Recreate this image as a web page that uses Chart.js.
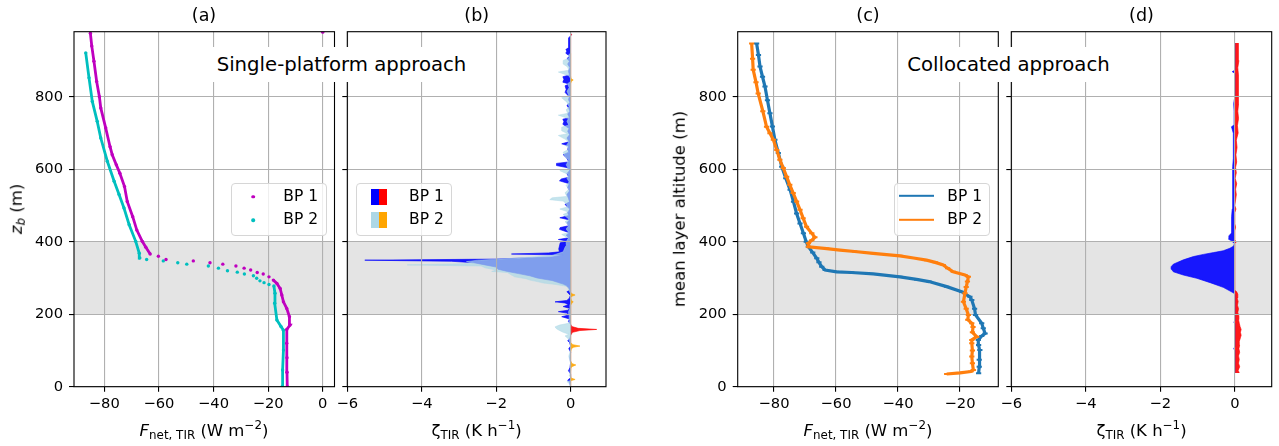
<!DOCTYPE html>
<html lang="en">
<head>
<meta charset="utf-8">
<title>Single-platform vs collocated approach</title>
<script src="https://cdn.jsdelivr.net/npm/chart.js@4.4.1/dist/chart.umd.min.js"></script>
<style>
  html, body { margin: 0; padding: 0; background: #fff; }
  #fig { position: relative; width: 1279px; height: 446px; overflow: hidden; font-family: 'DejaVu Sans', sans-serif; color: #000; }
  #fig canvas { position: absolute; left: 0; top: 0; }
  .t { position: absolute; font-size: 15.5px; line-height: 1; white-space: nowrap; transform: translate(-50%, -50%); }
  .t.title { font-size: 17.5px; }
  .t.axl { font-size: 16.5px; }
  .t.left { transform: translate(0, -50%); }
  .t.rot { transform: translate(-50%, -50%) rotate(-90deg); }
  .t sub, .t sup { font-size: 72%; line-height: 0; }
  .t sub { vertical-align: -0.25em; }
  .t sup { vertical-align: 0.55em; }
  .note { position: absolute; top: 47px; height: 35px; background: #fff; font-size: 19.7px; line-height: 35px; text-align: center; white-space: nowrap; }
  .legend { position: absolute; top: 183px; width: 96px; height: 53px; box-sizing: border-box; border: 1px solid #d6d6d6; border-radius: 4px; background: rgba(255,255,255,0.8); }
  .dot { position: absolute; width: 3.6px; height: 3.6px; border-radius: 50%; transform: translate(-50%, -50%); }
  .patch { position: absolute; width: 8px; height: 16px; }
  .hline { position: absolute; width: 35px; height: 2.4px; transform: translate(0, -50%); }
</style>
</head>
<body>
<div id="fig">
  <canvas id="panelA" width="1279" height="446"></canvas>
  <canvas id="panelB" width="1279" height="446"></canvas>
  <canvas id="panelC" width="1279" height="446"></canvas>
  <canvas id="panelD" width="1279" height="446"></canvas>

  <!-- panel titles -->
  <div class="t title" style="left:204px; top:15.5px">(a)</div>
  <div class="t title" style="left:476.7px; top:15.5px">(b)</div>
  <div class="t title" style="left:868px; top:15.5px">(c)</div>
  <div class="t title" style="left:1141.5px; top:15.5px">(d)</div>

  <!-- axis labels -->
  <div class="t axl rot" style="left:17px; top:209px"><i>z<sub>b</sub></i> (m)</div>
  <div class="t axl rot" style="left:680px; top:209px">mean layer altitude (m)</div>
  <div class="t axl" style="left:204px; top:431px"><i>F</i><sub>net, TIR</sub> (W m<sup>−2</sup>)</div>
  <div class="t axl" style="left:476.7px; top:431px">ζ<sub>TIR</sub> (K h<sup>−1</sup>)</div>
  <div class="t axl" style="left:868px; top:431px"><i>F</i><sub>net, TIR</sub> (W m<sup>−2</sup>)</div>
  <div class="t axl" style="left:1141.5px; top:431px">ζ<sub>TIR</sub> (K h<sup>−1</sup>)</div>

  <!-- approach labels -->
  <div class="note" style="left:212px; width:259px">Single-platform approach</div>
  <div class="note" style="left:899px; width:219px">Collocated approach</div>

  <!-- legend (a) -->
  <div class="legend" style="left:230.5px"></div>
  <div class="dot" style="left:253.3px; top:196.7px; background:#bf00bf"></div>
  <div class="dot" style="left:253.3px; top:220px; background:#00bfbf"></div>
  <div class="t left" style="left:283.3px; top:196.7px">BP 1</div>
  <div class="t left" style="left:283.3px; top:220px">BP 2</div>

  <!-- legend (b) -->
  <div class="legend" style="left:356px"></div>
  <div class="patch" style="left:370.7px; top:188.5px; background:#0000ff"></div>
  <div class="patch" style="left:378.7px; top:188.5px; background:#ff0000"></div>
  <div class="patch" style="left:370.7px; top:211.8px; background:#add8e6"></div>
  <div class="patch" style="left:378.7px; top:211.8px; background:#ffa500"></div>
  <div class="t left" style="left:409px; top:196.7px">BP 1</div>
  <div class="t left" style="left:409px; top:220px">BP 2</div>

  <!-- legend (c) -->
  <div class="legend" style="left:894px"></div>
  <div class="hline" style="left:899.3px; top:196px; background:#1f77b4"></div>
  <div class="hline" style="left:899.3px; top:220px; background:#ff7f0e"></div>
  <div class="t left" style="left:947.3px; top:196.7px">BP 1</div>
  <div class="t left" style="left:947.3px; top:220px">BP 2</div>
</div>

<script>
// ---- data ----
const altTicks = [0, 200, 400, 600, 800];
const fluxTicksA = [-80, -60, -40, -20, 0];
const fluxTicksC = [-80, -60, -40, -20];
const zetaTicks = [-6, -4, -2, 0];
const layerBand = [200, 400];   // shaded altitude range (m)

// (a) single-platform net TIR flux: [altitude m, W m-2]
const fluxSingleBp1 = [
    [0, -13.0], [40, -13.1], [80, -13.1], [120, -13.2], [158, -13.2], [170, -12.0], [193, -12.2],
    [216, -13.2], [234, -14.4], [253, -15.0], [271, -15.6], [285, -16.8], [294, -18.1], [303, -19.7],
    [311, -21.8], [315, -24.0], [322, -26.4], [327, -28.8], [333, -31.8], [338, -36.6], [342, -41.3],
    [347, -47.4], [351, -57.4], [360, -60.2], [366, -63.2], [385, -64.8], [401, -66.1], [432, -68.1],
    [469, -69.6], [511, -71.6], [552, -72.6], [589, -74.3], [612, -75.6], [640, -77.1], [662, -77.9],
    [714, -79.5], [769, -81.3], [800, -81.8], [842, -82.8], [898, -83.8], [940, -84.6], [975, -85.1],
    [978, 0]
];
const fluxSingleBp2 = [
    [0, -14.9], [46, -14.7], [101, -14.4], [156, -14.4], [166, -15.3], [184, -16.8], [230, -17.6],
    [258, -17.5], [278, -17.9], [282, -19.7], [287, -21.5], [292, -23.0], [299, -24.2], [306, -25.4],
    [311, -28.7], [316, -31.3], [320, -34.9], [327, -38.2], [333, -41.9], [338, -49.8], [342, -53.1],
    [347, -58.4], [351, -64.5], [355, -67.0], [368, -67.2], [401, -68.5], [447, -70.9], [493, -72.8],
    [530, -74.6], [567, -76.4], [622, -78.9], [686, -81.3], [732, -82.6], [787, -84.4], [852, -85.6],
    [921, -86.8]
];

// (b) single-platform heating rate: [altitude m, K h-1]
const zetaSingleBp1 = [
    [0, 0], [12, -0.03], [18, -0.08], [24, -0.01], [35, 0], [44, -0.06], [52, -0.02], [66, 0], [80, -0.02],
    [95, 0], [105, -0.05], [112, 0], [122, -0.03], [127, -0.08], [133, -0.02], [142, 0], [150, 0.05],
    [155, 0.25], [158, 0.70], [161, 0.2], [166, 0.03], [172, 0], [180, -0.06], [187, -0.03], [193, -0.24],
    [198, -0.05], [203, -0.1], [207, -0.33], [211, -0.08], [216, -0.02], [221, -0.2], [226, -0.06],
    [231, -0.15], [234, -0.42], [238, -0.1], [245, -0.03], [252, -0.01], [262, -0.1], [266, -0.02],
    [272, -0.05], [278, -0.1], [283, -0.2], [288, -0.35], [293, -0.5], [297, -0.74], [300, -0.9],
    [306, -1.1], [312, -1.4], [318, -1.7], [324, -1.95], [330, -2.0], [336, -2.3], [342, -2.6],
    [346, -3.2], [349, -5.53], [352, -2.0], [358, -0.5], [363, -0.2], [366, -1.59], [369, -0.6],
    [372, -0.3], [380, -0.32], [388, -0.3], [397, -0.28], [401, -0.05], [406, -0.33], [411, -0.05],
    [418, -0.12], [425, -0.04], [434, -0.3], [439, -0.28], [444, -0.05], [452, -0.1], [460, -0.03],
    [466, -0.29], [472, -0.05], [480, -0.08], [490, -0.02], [497, -0.1], [503, -0.15], [510, -0.03],
    [520, -0.06], [530, -0.1], [540, -0.03], [550, -0.08], [560, -0.04], [568, -0.3], [573, -0.25],
    [578, -0.05], [588, -0.1], [596, -0.03], [604, -0.08], [610, -0.38], [616, -0.38], [620, -0.05],
    [630, -0.1], [640, -0.2], [647, -0.05], [655, -0.08], [664, -0.05], [670, -0.24], [676, -0.04],
    [686, -0.1], [695, -0.03], [705, -0.08], [712, -0.04], [724, -0.21], [731, -0.18], [738, -0.21],
    [742, -0.03], [752, -0.08], [760, -0.02], [768, -0.05], [776, -0.1], [784, -0.02], [792, -0.06],
    [800, -0.03], [806, -0.1], [812, -0.15], [820, -0.12], [830, -0.15], [835, -0.04], [840, -0.21],
    [848, -0.18], [855, -0.21], [860, -0.03], [870, -0.06], [880, -0.02], [890, -0.08], [898, -0.03],
    [905, -0.1], [912, -0.03], [920, -0.13], [926, -0.1], [930, -0.13], [935, -0.06], [945, -0.06],
    [955, -0.05], [962, -0.06], [968, 0], [971, 0.03], [975, 0]
];
const zetaSingleBp2 = [
    [0, 0], [8, -0.03], [14, -0.1], [17, 0.02], [20, 0.12], [24, 0.01], [32, -0.04], [42, -0.02],
    [52, 0.01], [56, 0.05], [60, 0.14], [64, 0.03], [72, -0.02], [84, -0.05], [95, -0.02], [105, 0.02],
    [109, 0.08], [112, 0.25], [116, 0.06], [122, -0.02], [130, -0.05], [136, -0.1], [140, -0.15],
    [145, -0.05], [150, -0.2], [155, -0.3], [160, -0.38], [165, -0.42], [170, -0.3], [175, -0.05],
    [185, -0.02], [195, -0.04], [205, -0.06], [215, -0.03], [225, -0.02], [230, 0.03], [234, 0.07],
    [238, 0.02], [246, 0], [250, 0.05], [253, 0.12], [257, 0.02], [262, -0.03], [270, -0.06],
    [277, -0.1], [282, -0.4], [286, -0.73], [290, -0.9], [294, -1.09], [298, -1.2], [303, -1.5],
    [309, -1.6], [315, -1.7], [318, -2.12], [322, -2.0], [328, -2.3], [333, -2.4], [336, -4.39],
    [340, -2.6], [345, -2.8], [349, -2.5], [355, -1.4], [362, -0.5], [372, -0.2], [385, -0.15],
    [392, -0.1], [400, -0.12], [410, -0.06], [420, -0.24], [425, -0.05], [435, -0.12], [445, -0.05],
    [455, -0.15], [462, -0.04], [475, -0.2], [482, -0.06], [490, -0.29], [496, -0.08], [505, -0.12],
    [512, -0.2], [516, -0.56], [521, -0.5], [525, -0.1], [535, -0.15], [545, -0.05], [555, -0.12],
    [565, -0.04], [575, -0.1], [585, -0.05], [596, -0.29], [601, -0.06], [612, -0.12], [625, -0.05],
    [635, -0.15], [647, -0.2], [655, -0.05], [665, -0.12], [675, -0.05], [683, -0.15], [693, -0.33],
    [698, -0.08], [706, -0.24], [716, -0.24], [722, -0.05], [732, -0.1], [740, -0.06], [749, -0.33],
    [754, -0.08], [764, -0.12], [772, -0.04], [785, -0.1], [797, -0.24], [803, -0.05], [815, -0.1],
    [825, -0.04], [836, -0.08], [842, 0.02], [846, 0.07], [850, 0.01], [858, -0.05], [868, -0.33],
    [873, -0.05], [882, -0.08], [890, -0.2], [900, -0.2], [906, -0.04], [915, -0.06], [920, 0]
];

// (c) collocated net TIR flux: [mean layer altitude m, W m-2]
const fluxCollocBp1 = [
    [37, -14.0], [55, -13.8], [74, -13.8], [101, -13.6], [115, -14.0], [129, -14.1], [140, -13.0],
    [147, -11.9], [161, -12.5], [175, -13.0], [198, -15.0], [215, -15.3], [239, -16.2], [248, -16.8],
    [262, -19.5], [276, -24.3], [290, -30.0], [296, -34.0], [303, -39.4], [311, -48.0], [315, -55.0],
    [317, -59.8], [322, -63.5], [331, -64.6], [343, -65.5], [354, -66.2], [370, -67.5], [386, -68.9],
    [400, -69.6], [423, -70.5], [450, -71.6], [478, -72.7], [510, -73.7], [543, -74.8], [575, -76.2],
    [607, -77.5], [645, -78.6], [681, -79.7], [718, -80.5], [754, -81.3], [790, -82.1], [828, -82.9],
    [855, -83.7], [883, -84.5], [915, -85.0], [947, -85.6]
];
const fluxCollocBp2 = [
    [35, -24.3], [38, -20.0], [42, -16.5], [46, -15.7], [65, -16.0], [83, -16.2], [100, -16.0],
    [120, -16.2], [129, -16.2], [138, -14.6], [150, -16.0], [165, -15.8], [175, -16.2], [185, -17.5],
    [198, -17.3], [215, -18.0], [234, -18.9], [258, -18.4], [275, -18.0], [290, -17.6], [303, -17.3],
    [308, -18.4], [317, -22.2], [327, -24.0], [336, -25.4], [343, -28.0], [349, -30.8], [355, -35.0],
    [361, -39.4], [368, -48.0], [373, -54.0], [377, -58.7], [381, -63.0], [386, -68.9], [396, -68.9],
    [404, -67.8], [412, -66.8], [423, -67.8], [441, -69.5], [465, -70.6], [488, -71.6], [511, -72.7],
    [534, -73.8], [557, -74.9], [579, -75.9], [603, -77.0], [626, -78.1], [653, -79.1], [681, -80.2],
    [699, -81.3], [717, -82.4], [760, -83.6], [809, -85.1], [840, -85.8], [874, -86.7], [905, -86.9],
    [947, -87.2]
];

// (d) collocated heating rate, warming (red) and cooling (blue) parts: [altitude m, K h-1]
const zetaCollocWarm = [
    [38, 0.12], [45, 0.09], [55, 0.13], [65, 0.1], [75, 0.12], [85, 0.1], [95, 0.13], [105, 0.11],
    [115, 0.13], [125, 0.12], [135, 0.15], [142, 0.17], [150, 0.15], [158, 0.17], [166, 0.14],
    [175, 0.12], [185, 0.1], [195, 0.11], [205, 0.08], [215, 0.1], [225, 0.07], [235, 0.09],
    [245, 0.06], [255, 0.08], [262, 0.05], [266, 0], [396, 0], [400, 0.05], [404, 0], [430, 0],
    [440, 0.02], [450, 0], [480, 0], [490, 0.03], [500, 0], [530, 0.04], [545, 0.02], [560, 0.05],
    [575, 0.01], [590, 0.04], [605, 0.02], [620, 0.05], [640, 0.03], [660, 0.06], [680, 0.04],
    [700, 0.09], [720, 0.07], [740, 0.1], [760, 0.08], [780, 0.1], [800, 0.09], [820, 0.11],
    [840, 0.09], [860, 0.1], [880, 0.08], [900, 0.11], [920, 0.09], [935, 0.1], [948, 0.1]
];
const zetaCollocCool = [
    [38, 0], [100, 0], [105, -0.03], [110, 0], [175, 0], [178, -0.03], [181, 0], [255, 0],
    [259, -0.04], [274, -0.31], [287, -0.66], [299, -1.02], [308, -1.38], [317, -1.65], [324, -1.7],
    [331, -1.71], [338, -1.65], [350, -1.38], [359, -1.11], [365, -0.84], [370, -0.57], [375, -0.31],
    [382, -0.13], [388, -0.03], [395, -0.01], [403, -0.1], [407, -0.17], [416, -0.16], [423, -0.1],
    [440, -0.08], [455, -0.1], [469, -0.08], [490, -0.07], [510, -0.06], [530, -0.07], [552, -0.06],
    [580, -0.05], [607, -0.05], [630, -0.04], [660, -0.04], [699, -0.04], [717, -0.09], [722, -0.02],
    [760, -0.02], [781, -0.03], [800, 0], [865, 0], [869, -0.07], [873, 0], [948, 0]
];

// ---- figure layout ----
const FIG_W = 1279, FIG_H = 446;
const AREA_TOP = 31.7, AREA_BOTTOM = 386.7;
const AXIS_W = 40, AXIS_H = 40;
const ALT_MAX = 979.3;

const MAGENTA = '#bf00bf', CYAN = '#00bfbf';
const TAB_BLUE = '#1f77b4', TAB_ORANGE = '#ff7f0e';
const BLUE = 'rgba(0, 0, 255, 0.9)', RED = 'rgba(255, 0, 0, 0.9)';
const LIGHTBLUE = 'rgba(173, 216, 230, 0.7)', ORANGE = 'rgba(255, 165, 0, 0.9)';
const BAND_COLOR = '#e4e4e4';

Chart.defaults.font.family = "'DejaVu Sans', sans-serif";
Chart.defaults.color = '#000';

function fmtTick(v) {
    return v < 0 ? '\u2212' + Math.abs(v) : String(v);
}

const toPoints = pairs => pairs.map(([z, v]) => ({x: v, y: z}));
const negPart = pairs => pairs.map(([z, v]) => ({x: Math.min(v, 0), y: z}));
const posPart = pairs => pairs.map(([z, v]) => ({x: Math.max(v, 0), y: z}));

// dots that are far apart (fast flux change) are not joined
function sparseStep(ctx) {
    const dx = Math.abs(ctx.p1.parsed.x - ctx.p0.parsed.x);
    const dy = Math.abs(ctx.p1.parsed.y - ctx.p0.parsed.y);
    return dx > 0.15 * dy;
}

const bandPlugin = {
    id: 'band',
    beforeDraw(chart) {
        const {ctx, chartArea: a, scales: {y}} = chart;
        const top = y.getPixelForValue(layerBand[1]);
        const bottom = y.getPixelForValue(layerBand[0]);
        ctx.save();
        ctx.fillStyle = BAND_COLOR;
        ctx.fillRect(a.left, top, a.right - a.left, bottom - top);
        ctx.restore();
    }
};

const framePlugin = {
    id: 'frame',
    afterDraw(chart) {
        const {ctx, chartArea: a} = chart;
        ctx.save();
        ctx.strokeStyle = '#000';
        ctx.lineWidth = 1.1;
        ctx.strokeRect(a.left, a.top, a.right - a.left, a.bottom - a.top);
        ctx.restore();
    }
};

function buildPanel(id, left, right, xRange, xTicks, yLabels, gridOnTop, datasets) {
    const grid = {
        color: '#b0b0b0', lineWidth: 1.1,
        tickColor: '#000', tickWidth: 1.1, tickLength: 5,
        z: gridOnTop ? 1 : -1
    };
    return new Chart(document.getElementById(id), {
        type: 'line',
        data: { datasets },
        options: {
            responsive: false,
            animation: false,
            indexAxis: 'y',
            layout: {
                padding: {
                    left: left - AXIS_W,
                    right: FIG_W - right,
                    top: AREA_TOP,
                    bottom: FIG_H - AREA_BOTTOM - AXIS_H
                }
            },
            plugins: {
                legend: { display: false },
                tooltip: { enabled: false }
            },
            scales: {
                x: {
                    type: 'linear',
                    position: 'bottom',
                    min: xRange[0],
                    max: xRange[1],
                    grid: grid,
                    border: { display: false },
                    ticks: { font: { size: 14.7 }, padding: 4, maxRotation: 0, autoSkip: false, callback: fmtTick },
                    afterBuildTicks: s => { s.ticks = xTicks.map(v => ({value: v})); },
                    afterFit: s => { s.height = AXIS_H; }
                },
                y: {
                    type: 'linear',
                    position: 'left',
                    min: 0,
                    max: ALT_MAX,
                    grid: grid,
                    border: { display: false },
                    ticks: { font: { size: 14.7 }, padding: 6, autoSkip: false, callback: v => yLabels ? fmtTick(v) : '' },
                    afterBuildTicks: s => { s.ticks = altTicks.map(v => ({value: v})); },
                    afterFit: s => { s.width = AXIS_W; }
                }
            }
        },
        plugins: [bandPlugin, framePlugin]
    });
}

function dotSeries(pairs, color) {
    return {
        data: toPoints(pairs),
        borderColor: color,
        backgroundColor: color,
        borderWidth: 2.8,
        pointRadius: 1.7,
        pointBorderWidth: 0,
        tension: 0,
        segment: { borderColor: c => sparseStep(c) ? 'rgba(0,0,0,0)' : undefined }
    };
}

function areaSeries(points, color) {
    return {
        data: points,
        borderColor: color,
        backgroundColor: color,
        borderWidth: 0.7,
        pointRadius: 0,
        tension: 0,
        fill: 'origin'
    };
}

function lineSeries(pairs, color) {
    return {
        data: toPoints(pairs),
        borderColor: color,
        backgroundColor: color,
        borderWidth: 3.2,
        pointStyle: 'line',
        pointRadius: 2.6,
        pointBorderWidth: 2,
        pointBorderColor: color,
        tension: 0
    };
}

// (a)
buildPanel('panelA', 74, 334.5, [-91.1, 4.3], fluxTicksA, true, false, [
    dotSeries(fluxSingleBp1, MAGENTA),
    dotSeries(fluxSingleBp2, CYAN)
]);

// (b) light blue / orange drawn over blue / red
buildPanel('panelB', 347.3, 606, [-6, 0.95], zetaTicks, false, true, [
    areaSeries(negPart(zetaSingleBp2), LIGHTBLUE),
    areaSeries(posPart(zetaSingleBp2), ORANGE),
    areaSeries(negPart(zetaSingleBp1), BLUE),
    areaSeries(posPart(zetaSingleBp1), RED)
]);

// (c) orange on top
buildPanel('panelC', 737.7, 998.3, [-91.7, -7.65], fluxTicksC, true, false, [
    lineSeries(fluxCollocBp2, TAB_ORANGE),
    lineSeries(fluxCollocBp1, TAB_BLUE)
]);

// (d)
buildPanel('panelD', 1011.3, 1271.7, [-6, 0.99], zetaTicks, false, true, [
    areaSeries(toPoints(zetaCollocCool), BLUE),
    areaSeries(toPoints(zetaCollocWarm), RED)
]);
</script>
</body>
</html>
